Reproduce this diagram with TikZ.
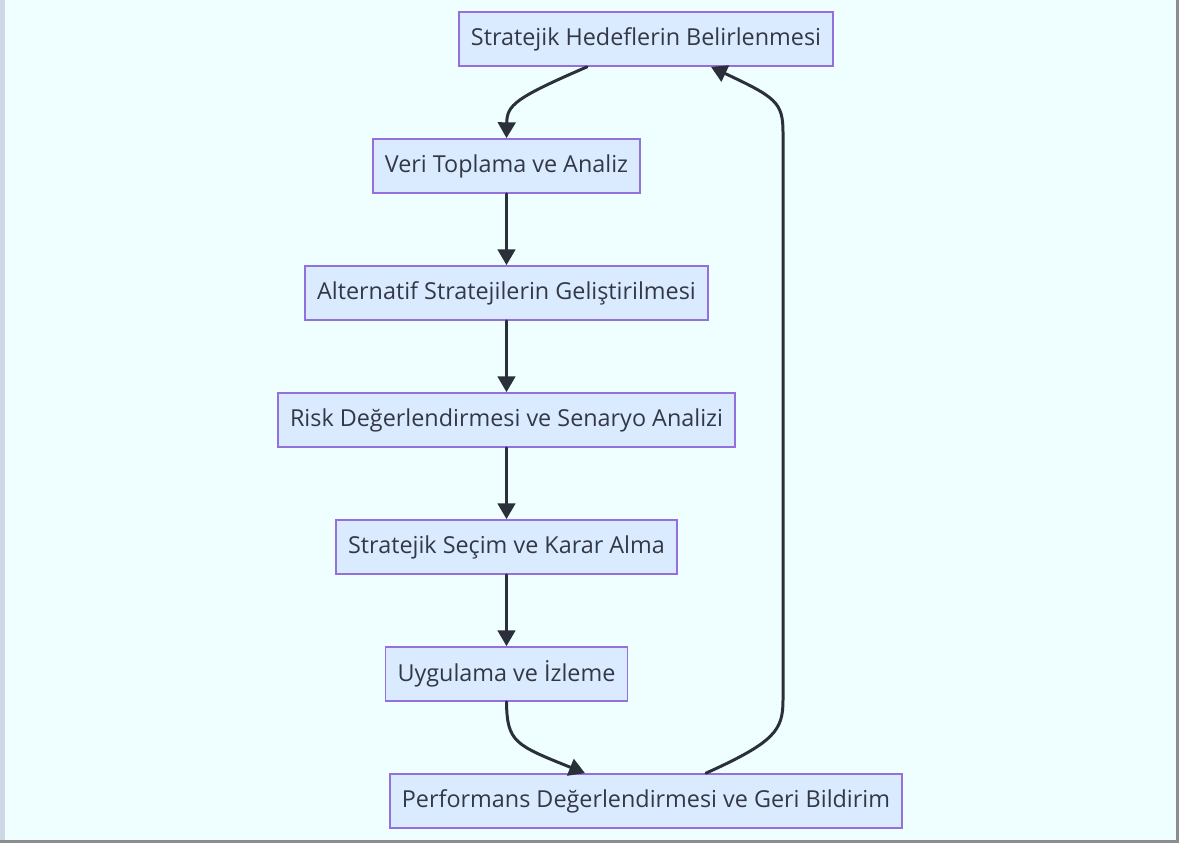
\documentclass[tikz,border=0pt]{standalone}
\usepackage{fontspec}
\setmainfont{Open Sans}
\usetikzlibrary{arrows.meta}

\definecolor{pagebg}{RGB}{239,255,255}
\definecolor{boxfill}{RGB}{219,235,255}
\definecolor{boxline}{RGB}{147,112,219}
\definecolor{inkdark}{RGB}{51,56,70}
\definecolor{edgeline}{RGB}{43,47,58}
\definecolor{sidestrip}{RGB}{205,215,230}

\tikzset{
  stepbox/.style={draw=boxline, fill=boxfill, line width=1pt, text=inkdark,
    minimum height=1.08cm, inner xsep=0.24cm, font=\fontsize{13.3}{16}\selectfont},
  flow/.style={draw=edgeline, line width=1.7pt,
    -{Triangle[length=9pt,width=10pt]}},
}

\begin{document}
\begin{tikzpicture}[x=0.02cm, y=-0.02cm, line cap=round]

  % canvas
  \useasboundingbox (0,0) rectangle (1179,843);
  \fill[pagebg] (0,0) rectangle (1179,843);
  \fill[sidestrip] (0,0) rectangle (5,843);
  \fill[gray!90] (1176,0) rectangle (1179,843);
  \fill[gray!90] (0,840) rectangle (1179,843);

  % steps
  \node[stepbox] (goals)   at (646,39)   {Stratejik Hedeflerin Belirlenmesi};
  \node[stepbox] (data)    at (506.5,166) {Veri Toplama ve Analiz};
  \node[stepbox] (alts)    at (506.5,293) {Alternatif Stratejilerin Geliştirilmesi};
  \node[stepbox] (risk)    at (506.5,420) {Risk Değerlendirmesi ve Senaryo Analizi};
  \node[stepbox] (choice)  at (506.5,547) {Stratejik Seçim ve Karar Alma};
  \node[stepbox] (apply)   at (506.5,674) {Uygulama ve İzleme};
  \node[stepbox] (review)  at (646,801)   {Performans Değerlendirmesi ve Geri Bildirim};

  % straight edges
  \foreach \a/\b in {data/alts, alts/risk, risk/choice, choice/apply}
    \draw[flow] (\a) -- (\b);

  % curved edges
  \draw[flow] (goals.south -| 587,0) .. controls (515,98) and (507,105) .. (data.north);
  \draw[flow] (apply.south) .. controls (507,742) and (515,745) .. (review.north -| 585,0);
  \draw[flow] (review.north -| 706,0) .. controls (775,742) and (783,730) .. (783,700)
    -- (783,132) .. controls (783,102) and (775,97) .. (goals.south -| 711,0);
\end{tikzpicture}
\end{document}
